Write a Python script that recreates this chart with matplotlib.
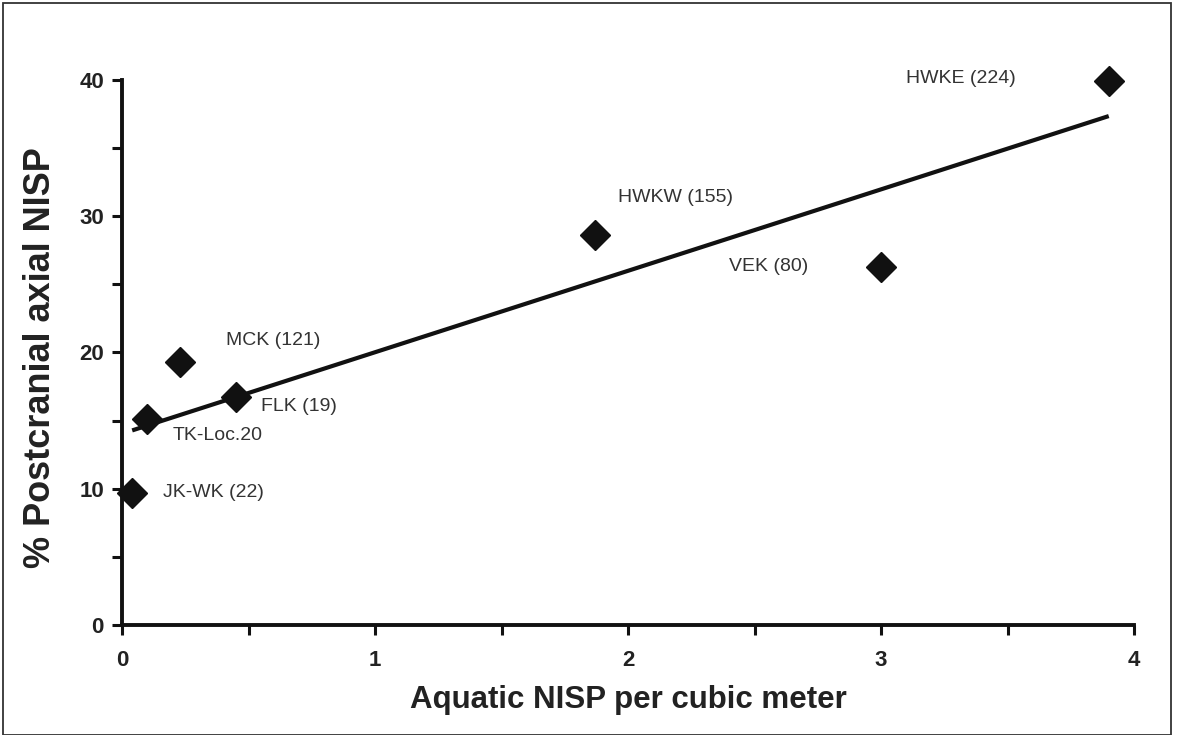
import numpy as np
import matplotlib
matplotlib.use("Agg")
import matplotlib.pyplot as plt
from matplotlib.patches import Rectangle
from matplotlib.ticker import MultipleLocator

# Site data: aquatic NISP per cubic meter vs. % postcranial axial NISP
sites = ["JK-WK (22)", "TK-Loc.20", "MCK (121)", "FLK (19)",
         "HWKW (155)", "VEK (80)", "HWKE (224)"]
aquatic_nisp = [0.04, 0.10, 0.23, 0.45, 1.87, 3.00, 3.90]
pct_axial = [9.7, 15.1, 19.3, 16.7, 28.6, 26.3, 39.9]

# label anchor positions (left edge, vertical centre) in data units
label_x = [0.16, 0.20, 0.41, 0.55, 1.96, 2.40, 3.10]
label_y = [9.7, 13.9, 20.9, 16.0, 31.4, 26.3, 40.1]

plt.rcParams["font.family"] = ["Liberation Sans", "DejaVu Sans"]

fig = plt.figure(figsize=(11.77, 7.35), dpi=100)
ax = fig.add_axes([0.1037, 0.1497, 0.8598, 0.7415])

# least-squares trend line over the data range
slope, intercept = np.polyfit(aquatic_nisp, pct_axial, 1)
xs = np.array([min(aquatic_nisp), max(aquatic_nisp)])
ax.plot(xs, slope * xs + intercept, color="#111111", lw=3.0,
        solid_capstyle="butt", zorder=2, clip_on=False)

ax.plot(aquatic_nisp, pct_axial, linestyle="none", marker="D",
        ms=15, color="#111111", zorder=3, clip_on=False)

for name, lx, ly in zip(sites, label_x, label_y):
    ax.text(lx, ly, name, fontsize=14, color="#333333",
            ha="left", va="center")

ax.set_xlim(0, 4)
ax.set_ylim(0, 40)
ax.xaxis.set_major_locator(MultipleLocator(1))
ax.xaxis.set_minor_locator(MultipleLocator(0.5))
ax.yaxis.set_major_locator(MultipleLocator(10))
ax.yaxis.set_minor_locator(MultipleLocator(5))

for side in ("top", "right"):
    ax.spines[side].set_visible(False)
for side in ("left", "bottom"):
    ax.spines[side].set_linewidth(2.8)
    ax.spines[side].set_color("#111111")

ax.tick_params(which="both", direction="out", length=7, width=2.2,
               color="#111111")
ax.tick_params(axis="x", which="major", labelsize=16, pad=11)
ax.tick_params(axis="y", which="major", labelsize=16, pad=6)
for lab in ax.get_xticklabels() + ax.get_yticklabels():
    lab.set_fontweight("bold")
    lab.set_color("#222222")

ax.set_xlabel("Aquatic NISP per cubic meter", fontsize=22.5,
              fontweight="bold", color="#222222", va="center")
ax.set_ylabel("% Postcranial axial NISP", fontsize=26,
              fontweight="bold", color="#222222", va="center")
ax.xaxis.set_label_coords(0.5, -0.1376)
ax.yaxis.set_label_coords(-0.081, 0.49)

# thin frame around the whole figure
fig.patches.append(Rectangle((3 / 1177, 0.0), 1168 / 1177, 1 - 3 / 735,
                             transform=fig.transFigure, fill=False,
                             edgecolor="#333333", lw=1.3))

fig.savefig("out.png", dpi=100)
